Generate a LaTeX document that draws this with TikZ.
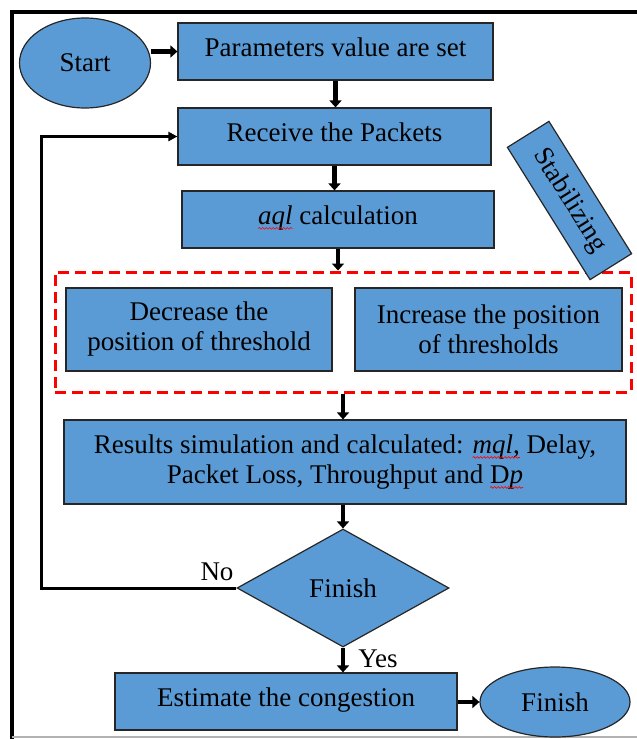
\documentclass[tikz,border=0pt]{standalone}
\usepackage{fontspec}
\setmainfont{Liberation Serif}
\usetikzlibrary{positioning,shapes.geometric,arrows.meta,decorations.pathmorphing}

\definecolor{boxblue}{HTML}{5B9BD5}

\tikzset{
  box/.style={draw=black!85, line width=1.2pt, fill=boxblue, inner sep=2pt, align=center},
  onebox/.style={box, text depth=9pt},
  oval/.style={box, ellipse},
  blk/.style={line width=4.5pt, -{Triangle[length=7pt,width=12pt]}},
  loopline/.style={line width=3pt, -{Triangle[length=9pt,width=9pt]}},
}

% red wavy underline (spell-check mark)
\newlength\spellw
\newcommand{\spellchk}[1]{\settowidth\spellw{#1}\rlap{#1}\tikz[baseline=0pt]{%
  \useasboundingbox (0pt,0pt) rectangle (\spellw,0pt);
  \draw[red, line width=0.6pt, fill=none, decorate, decoration={snake,amplitude=0.9pt,segment length=3.5pt}]
    (0pt,-4pt) -- (\spellw,-4pt);}}

\begin{document}
\begin{tikzpicture}[x=1pt, y=1pt, font=\fontsize{27}{30}\selectfont]
\useasboundingbox (0,0) rectangle (637,-739);

% frame
\draw[line width=4pt] (12,-739) -- (12,-12) -- (637,-12);
\draw[gray!60, line width=1.5pt] (12,-737) -- (637,-737);

\node[oval, minimum width=131, minimum height=90] (start) at (85,-63) {Start};
\node[onebox, minimum width=315, minimum height=57] (params) at (335.5,-51.5) {Parameters value are set};
\node[onebox, minimum width=313, minimum height=57] (receive) at (334.5,-136.5) {Receive the Packets};
\node[onebox, minimum width=312, minimum height=57] (aql) at (338,-219.5) {\spellchk{\textit{aql}} calculation};

\node[draw=red, line width=3pt, dash pattern=on 11pt off 6pt, minimum width=576, minimum height=120] (stab) at (343,-332) {};
\node[box, minimum width=266, minimum height=83] (decrease) at (199,-329.5) {Decrease the\\position of threshold};
\node[box, minimum width=267, minimum height=83] (increase) at (488.5,-329.5) {Increase the position\\of thresholds};

\node[box, rotate=-58, minimum width=156, minimum height=49] (stabtxt) at (569.5,-200.5) {Stabilizing};

\node[box, minimum width=562, minimum height=84] (results) at (345,-462) {Results simulation and calculated: \spellchk{\textit{mql},} Delay,\\Packet Loss, Throughput and \spellchk{D\textit{p}}};
\node[box, diamond, inner sep=0pt, minimum width=212, minimum height=118] (chk) at (343,-588) {Finish};
\node[onebox, minimum width=342, minimum height=57] (estimate) at (286,-701.5) {Estimate the congestion};
\node[oval, minimum width=150, minimum height=70] (end) at (555,-702) {Finish};

\coordinate (loopc) at (41,-588);

\draw[blk] (start.east |- params.west) -- (params.west);
\draw[blk] (params.south) -- (params.south |- receive.north);
\draw[blk] (receive.south) -- (receive.south |- aql.north);
\draw[blk] (aql.south) -- (aql.south |- stab.north);
\draw[blk] (stab.south) -- (stab.south |- results.north);
\draw[blk] (results.south -| chk.north) -- (chk.north);
\draw[blk] (chk.south) -- (chk.south |- estimate.north);
\draw[blk] (estimate.east |- end.west) -- (end.west);
\draw[loopline] (chk.west) -- (loopc) |- (receive.west);

\node[] (no) at (217,-572) {No};
\node[] (yes) at (378,-659) {Yes};

\end{tikzpicture}
\end{document}
